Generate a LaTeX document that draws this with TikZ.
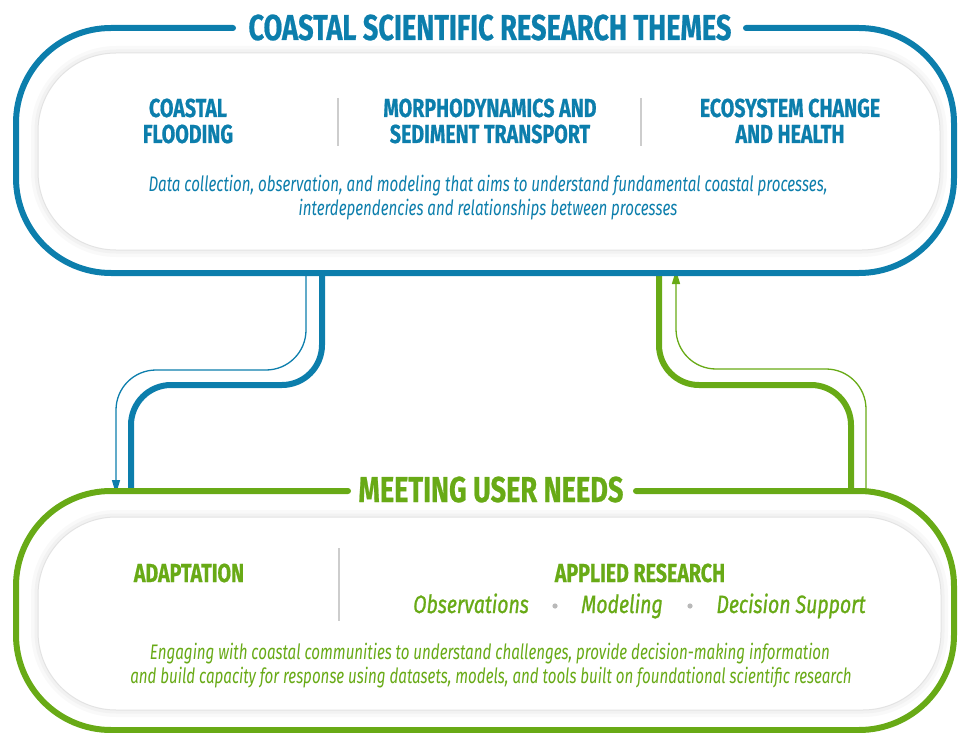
\documentclass[tikz,border=0pt]{standalone}
\usepackage{fontspec}
\setmainfont{Fira Sans}[FakeStretch=0.72]
\newfontfamily\boldcond{Fira Sans}[FakeStretch=0.755, FakeBold=0.6]
\newfontfamily\itemcond{Fira Sans}[FakeStretch=0.78, FakeBold=0.9]
\usetikzlibrary{arrows.meta}
\definecolor{cblue}{RGB}{12,126,172}
\definecolor{cgreen}{RGB}{104,170,22}
\definecolor{divgray}{RGB}{205,205,205}
\definecolor{dotgray}{RGB}{185,185,185}
\begin{document}
\begin{tikzpicture}[x=1pt,y=-1pt,
  frame/.style={line width=6pt, rounded corners=95pt, line cap=round},
  panel/.style={draw=gray!22, line width=1pt, fill=white, rounded corners=78pt,
     inner sep=0pt, outer sep=0pt,
     preaction={draw=gray!5, line width=14pt},
     preaction={draw=gray!10, line width=7pt}},
  ghost/.style={inner sep=0pt, outer sep=0pt},
  head/.style={font=\boldcond\bfseries\fontsize{36}{38}\selectfont, anchor=base, inner sep=0pt},
  sub/.style={font=\boldcond\bfseries\fontsize{26}{28}\selectfont, anchor=base, inner sep=0pt},
  desc/.style={font=\itshape\fontsize{21}{24}\selectfont, anchor=base, inner sep=0pt},
  item/.style={font=\itemcond\itshape\fontsize{25}{27}\selectfont, anchor=base, inner sep=0pt},
  divider/.style={draw=divgray, line width=1.5pt},
  thickc/.style={line width=6pt, rounded corners=40pt},
  thinc/.style={line width=1.3pt, rounded corners=40pt, -{Triangle[length=14pt,width=8pt]}}
]
\useasboundingbox (0,0) rectangle (959,733);

% invisible frame nodes
\node[ghost, minimum width=938pt, minimum height=245pt] (topframe) at (485,150.5) {};
\node[ghost, minimum width=938pt, minimum height=239pt] (botframe) at (485,610.5) {};

\coordinate (xa) at (322,0);
\coordinate (xb) at (131,0);
\coordinate (xc) at (306,0);
\coordinate (xd) at (116,0);
\coordinate (xe) at (659,0);
\coordinate (xf) at (851,0);
\coordinate (xg) at (676,0);
\coordinate (xh) at (866,0);

% connectors
\draw[cblue, thickc] (topframe.south -| xa) -- (322,385) -- (131,385) -- (botframe.north -| xb);
\draw[cblue, thinc] (topframe.south -| xc) -- (306,370) -- (116,370) -- ([yshift=-3pt]botframe.north -| xd);
\draw[cgreen, thickc] (botframe.north -| xf) -- (851,385) -- (659,385) -- (topframe.south -| xe);
\draw[cgreen, thinc] (botframe.north -| xh) -- (866,369) -- (676,369) -- ([yshift=3pt]topframe.south -| xg);

% top frame
\draw[cblue, frame] (746,28) -- (954,28) -- (954,273) -- (16,273) -- (16,28) -- (233,28);
\node[panel, minimum width=902pt, minimum height=197pt] (toppanel) at (489,151.5) {};
\node[head, text=cblue] (toptitle) at (490,40) {COASTAL SCIENTIFIC RESEARCH THEMES};

\node[sub, text=cblue] (t1a) at (188,117) {COASTAL};
\node[sub, text=cblue] (t1b) at (188,143) {FLOODING};
\node[sub, text=cblue] (t2a) at (490,117) {MORPHODYNAMICS AND};
\node[sub, text=cblue] (t2b) at (490,143) {SEDIMENT TRANSPORT};
\node[sub, text=cblue] (t3a) at (790,117) {ECOSYSTEM CHANGE};
\node[sub, text=cblue] (t3b) at (790,143) {AND HEALTH};
\draw[divider] (338,98) -- (338,146);
\draw[divider] (641,98) -- (641,146);
\node[desc, text=cblue] (td1) at (488,192) {Data collection, observation, and modeling that aims to understand fundamental coastal processes,};
\node[desc, text=cblue] (td2) at (488,215) {interdependencies and relationships between processes};

% bottom frame
\draw[cgreen, frame] (636,491) -- (954,491) -- (954,730) -- (16,730) -- (16,491) -- (348,491);
\node[panel, minimum width=903pt, minimum height=193pt] (botpanel) at (489.5,613.5) {};
\node[head, text=cgreen] (bottitle) at (491,502) {MEETING USER NEEDS};

\node[sub, text=cgreen] (b1) at (189,582) {ADAPTATION};
\draw[divider] (339,548) -- (339,621);
\node[sub, text=cgreen] (b2) at (640,582) {APPLIED RESEARCH};
\node[item, text=cgreen] (b3) at (471,613) {Observations};
\fill[dotgray] (555,606) circle (2.6pt);
\node[item, text=cgreen] (b4) at (622,613) {Modeling};
\fill[dotgray] (690,606) circle (2.6pt);
\node[item, text=cgreen] (b5) at (791,613) {Decision Support};
\node[desc, text=cgreen] (bd1) at (490,659) {Engaging with coastal communities to understand challenges, provide decision-making information};
\node[desc, text=cgreen] (bd2) at (491,683) {and build capacity for response using datasets, models, and tools built on foundational scientific research};
\end{tikzpicture}
\end{document}
